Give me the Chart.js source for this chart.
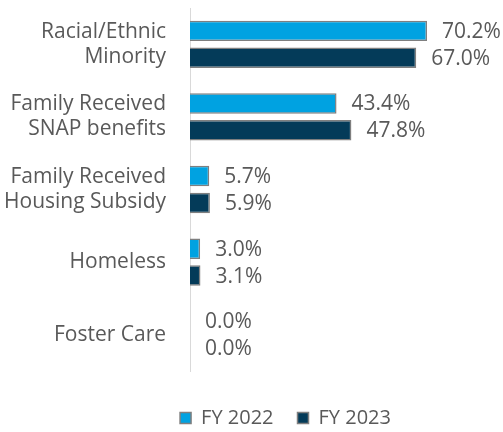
<!DOCTYPE html>
<html>
<head>
<meta charset="utf-8">
<script src="https://cdn.jsdelivr.net/npm/chart.js@4"></script>
<style>
  html, body { margin: 0; padding: 0; background: #fff; }
  #wrap { width: 503px; height: 432px; position: relative; }
</style>
</head>
<body>
<div id="wrap"><canvas id="c"></canvas></div>
<script>
const categories = [
  ["Racial/Ethnic", "Minority"],
  ["Family Received", "SNAP benefits"],
  ["Family Received", "Housing Subsidy"],
  "Homeless",
  "Foster Care"
];
const seriesNames = ["FY 2022", "FY 2023"];
const fy2022 = [70.2, 43.4, 5.7, 3.0, 0.0];
const fy2023 = [67.0, 47.8, 5.9, 3.1, 0.0];

const FONT = "'Open Sans', sans-serif";
const TEXT = "#595959";

const dataLabels = {
  id: 'dataLabels',
  afterDatasetsDraw(chart) {
    const ctx = chart.ctx;
    ctx.save();
    ctx.font = "21px " + FONT;
    ctx.fillStyle = TEXT;
    ctx.textAlign = 'left';
    ctx.textBaseline = 'middle';
    chart.data.datasets.forEach((ds, di) => {
      const meta = chart.getDatasetMeta(di);
      meta.data.forEach((bar, i) => {
        ctx.fillText(ds.data[i].toFixed(1) + '%', bar.x + 15, bar.y + 1);
      });
    });
    ctx.restore();
  }
};

const legendShift = {
  id: 'legendShift',
  afterLayout(chart) {
    const lg = chart.legend;
    if (!lg) return;
    const dx = 34, dy = 6;
    lg.left += dx; lg.right += dx;
    lg.top += dy; lg.bottom += dy;
  }
};

new Chart(document.getElementById('c'), {
  type: 'bar',
  data: {
    labels: categories,
    datasets: [
      { label: seriesNames[0], data: fy2022, backgroundColor: '#00A2E1', borderColor: '#7F7F7F', borderWidth: 1.5 },
      { label: seriesNames[1], data: fy2023, backgroundColor: '#043B59', borderColor: '#7F7F7F', borderWidth: 1.5 }
    ]
  },
  options: {
    indexAxis: 'y',
    responsive: true,
    maintainAspectRatio: false,
    animation: false,
    datasets: { bar: { categoryPercentage: 0.74, barPercentage: 0.76 } },
    layout: { padding: { top: 8, right: 0, bottom: 0, left: 0 } },
    scales: {
      x: {
        min: 0, max: 92.7,
        display: true,
        grid: { display: false, drawTicks: false },
        border: { display: false },
        ticks: { display: false },
        afterFit(scale) { scale.height = 7; }
      },
      y: {
        grid: { display: false, drawTicks: false },
        border: { display: true, color: '#D9D9D9', width: 1 },
        ticks: { color: TEXT, font: { family: FONT, size: 21, lineHeight: 1.2 }, padding: 24 },
        afterFit(scale) {
          scale.width = 190;
          scale.paddingTop = 0;
          scale.paddingBottom = 0;
        }
      }
    },
    plugins: {
      legend: {
        position: 'bottom',
        labels: {
          color: TEXT,
          font: { family: FONT, size: 20 },
          boxWidth: 11, boxHeight: 11,
          padding: 24
        }
      },
      tooltip: { enabled: false }
    }
  },
  plugins: [dataLabels, legendShift]
});
</script>
</body>
</html>
